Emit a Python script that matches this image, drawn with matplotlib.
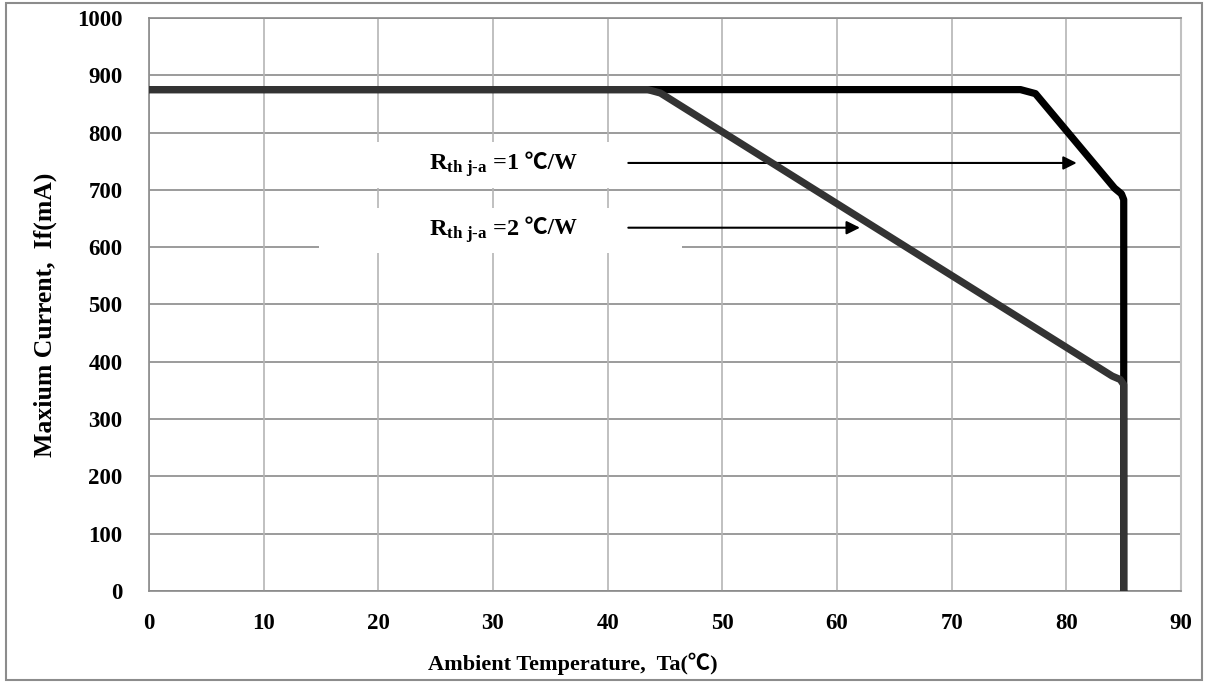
import matplotlib.pyplot as plt
from matplotlib.patches import Rectangle

plt.rcParams['font.family'] = ['Liberation Serif', 'Noto Sans CJK SC', 'DejaVu Sans']
plt.rcParams['font.weight'] = 'bold'
plt.rcParams['axes.labelweight'] = 'bold'
plt.rcParams['mathtext.fontset'] = 'custom'
plt.rcParams['mathtext.rm'] = 'Liberation Serif:bold'
plt.rcParams['mathtext.it'] = 'Liberation Serif:bold'
plt.rcParams['mathtext.bf'] = 'Liberation Serif:bold'

# derating curves
temp_r1 = [0, 76, 77.3, 84.2, 84.8, 85, 85]
curr_r1 = [875, 875, 868, 703, 693, 683, 0]
temp_r2 = [0, 43.5, 44.6, 84.0, 84.7, 85, 85]
curr_r2 = [875, 875, 869, 375, 369, 360, 0]

labels = [r'R$_{\text{th j-a}}$ =1', r'R$_{\text{th j-a}}$ =2']
unit = ' ℃/W'
label_y = [742, 628]
arrow_y = [747, 634]
arrow_end = [80.9, 62.0]

xticks = list(range(0, 100, 10))
yticks = list(range(0, 1100, 100))

fig = plt.figure(figsize=(12.08, 6.84), dpi=100)
fig.patches.append(Rectangle((0.005, 0.006), 0.99, 0.989, transform=fig.transFigure,
                             fill=False, edgecolor='#8c8c8c', linewidth=1.5))
ax = fig.add_axes([0.1233, 0.1360, 0.8544, 0.8377])

ax.set_xlim(0, 90)
ax.set_ylim(0, 1000)
ax.set_xticks(xticks)
ax.set_yticks(yticks)
ax.tick_params(length=0, labelsize=16.5)
ax.tick_params(axis='y', pad=19)
ax.tick_params(axis='x', pad=16)

for y in yticks:
    ax.axhline(y, color='#8a8a8a', lw=1.2, zorder=1)
for x in xticks:
    ax.axvline(x, color='#b5b5b5', lw=1.2, zorder=1)

for side in ['top', 'left', 'bottom']:
    ax.spines[side].set_color('#8a8a8a')
    ax.spines[side].set_linewidth(1.2)
ax.spines['right'].set_color('#c0c0c0')
ax.spines['right'].set_linewidth(1.5)

# white text boxes covering the grid
ax.add_patch(Rectangle((14.8, 703), 31.7, 80, facecolor='white', edgecolor='none', zorder=2))
ax.add_patch(Rectangle((14.8, 590), 31.7, 78, facecolor='white', edgecolor='none', zorder=2))

ax.plot(temp_r1, curr_r1, color='black', lw=5.2, solid_capstyle='round',
        solid_joinstyle='round', zorder=4)
ax.plot(temp_r2, curr_r2, color='#333333', lw=5.2, solid_capstyle='round',
        solid_joinstyle='round', zorder=5)

for lab, ly, ay, ae in zip(labels, label_y, arrow_y, arrow_end):
    ax.text(32.3, ly, lab, ha='right', va='center', fontsize=17.5, zorder=3)
    ax.text(32.3, ly + 4, unit, ha='left', va='center', fontsize=16.5, zorder=3)
    ax.annotate('', xy=(ae, ay), xytext=(41.8, ay),
                arrowprops=dict(arrowstyle='-|>', color='black', lw=1.5,
                                mutation_scale=20, shrinkA=0, shrinkB=0), zorder=3)

ax.set_xlabel('Ambient Temperature,  Ta(℃)', fontsize=16)
ax.set_ylabel('Maxium Current,  If(mA)', fontsize=18.5)
ax.xaxis.set_label_coords(0.411, -0.108)
ax.yaxis.set_label_coords(-0.089, 0.482)

fig.savefig('out.png', dpi=100)
